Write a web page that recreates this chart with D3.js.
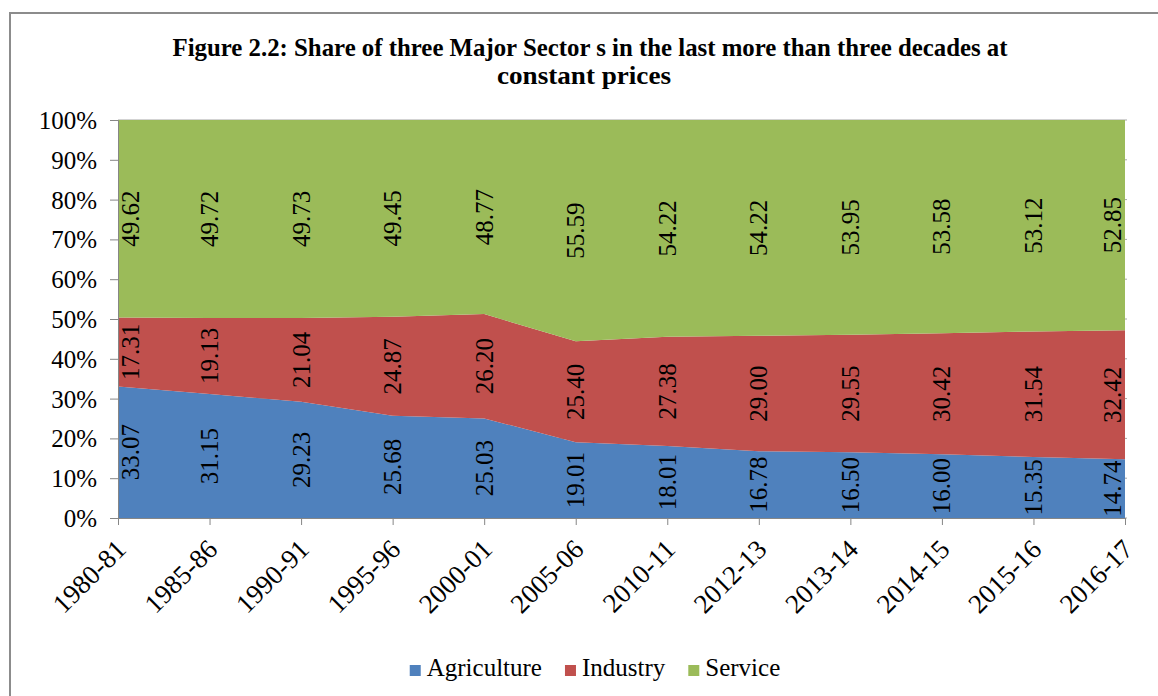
<!DOCTYPE html>
<html>
<head>
<meta charset="utf-8">
<script src="https://cdn.jsdelivr.net/npm/d3@7"></script>
<style>
  html, body { margin: 0; padding: 0; background: #fff; }
  svg { display: block; }
  svg text { font-family: "Liberation Serif", "Times New Roman", serif !important; fill: #000; }
</style>
</head>
<body>
<svg id="chart" width="1158" height="696"></svg>
<script>
const categories = ["1980-81","1985-86","1990-91","1995-96","2000-01","2005-06","2010-11","2012-13","2013-14","2014-15","2015-16","2016-17"];
const agriculture = [33.07,31.15,29.23,25.68,25.03,19.01,18.01,16.78,16.50,16.00,15.35,14.74];
const industry    = [17.31,19.13,21.04,24.87,26.20,25.40,27.38,29.00,29.55,30.42,31.54,32.42];
const service     = [49.62,49.72,49.73,49.45,48.77,55.59,54.22,54.22,53.95,53.58,53.12,52.85];
const seriesNames = ["Agriculture","Industry","Service"];
const seriesColors = ["#4F81BD","#C0504D","#9BBB59"];
const yTickValues = [0,0.1,0.2,0.3,0.4,0.5,0.6,0.7,0.8,0.9,1.0];
const titleLines = ["Figure 2.2: Share of three Major Sector s in the last more than three decades at","constant prices"];

const svg = d3.select("#chart");
const plot = {left: 118, right: 1125, top: 120, bottom: 518};
const SERIF = '"Liberation Serif", "Times New Roman", serif';

// outer frame
svg.append("rect").attr("x", 10).attr("y", 13).attr("width", 1160).attr("height", 700)
  .attr("fill", "#fff").attr("stroke", "#8c8c8c").attr("stroke-width", 2);

// title
svg.append("text").attr("x", 590).attr("y", 56).attr("text-anchor", "middle")
  .attr("font-weight", "bold").attr("font-size", 25)
  .attr("textLength", 835).attr("lengthAdjust", "spacingAndGlyphs").text(titleLines[0]);
svg.append("text").attr("x", 584).attr("y", 84).attr("text-anchor", "middle")
  .attr("font-weight", "bold").attr("font-size", 25)
  .attr("textLength", 174).attr("lengthAdjust", "spacingAndGlyphs").text(titleLines[1]);

const rows = categories.map((c, i) => ({cat: c, Agriculture: agriculture[i], Industry: industry[i], Service: service[i]}));
const stack = d3.stack().keys(seriesNames).offset(d3.stackOffsetExpand);
const layers = stack(rows);

const x = d3.scalePoint().domain(categories).range([plot.left, plot.right]);
const y = d3.scaleLinear().domain([0, 1]).range([plot.bottom, plot.top]);

// gridlines (behind)
svg.append("g").selectAll("line").data(yTickValues).join("line")
  .attr("x1", plot.left).attr("x2", plot.right + 2)
  .attr("y1", d => y(d)).attr("y2", d => y(d))
  .attr("stroke", "#a6a6a6").attr("stroke-width", 1);

const area = d3.area().x(d => x(d.data.cat)).y0(d => y(d[0])).y1(d => y(d[1]));
svg.append("g").selectAll("path").data(layers).join("path")
  .attr("d", area).attr("fill", (d, i) => seriesColors[i]);

// y axis
const yAxis = d3.axisLeft(y).tickValues(yTickValues).tickFormat(d3.format(".0%")).tickSize(8).tickPadding(13);
const gy = svg.append("g").attr("transform", `translate(${plot.left},0)`).call(yAxis)
  .attr("font-family", SERIF);
gy.select(".domain").attr("stroke", "#868686");
gy.selectAll(".tick line").attr("stroke", "#868686");
gy.selectAll(".tick text").attr("font-size", 25).style("font-family", SERIF).attr("fill", "#000").attr("dy", "0.34em");

// x axis
const xAxis = d3.axisBottom(x).tickSize(7).tickSizeOuter(0);
const gx = svg.append("g").attr("transform", `translate(0,${plot.bottom})`).call(xAxis)
  .attr("font-family", SERIF);
gx.select(".domain").attr("stroke", "#868686");
gx.selectAll(".tick line").attr("stroke", "#868686");
gx.selectAll(".tick text").attr("font-size", 27).style("font-family", SERIF).attr("fill", "#000")
  .attr("text-anchor", "end").attr("dy", 0).attr("y", 0)
  .attr("transform", "translate(9,33) rotate(-45)");

// data labels
const rawSeries = [agriculture, industry, service];
const labelG = svg.append("g");
layers.forEach((layer, si) => {
  layer.forEach((d, i) => {
    let cx = x(d.data.cat);
    cx = Math.max(plot.left + 12, Math.min(plot.right - 13, cx));
    const cy = y((d[0] + d[1]) / 2);
    labelG.append("text")
      .attr("transform", `translate(${cx},${cy}) rotate(-90)`)
      .attr("text-anchor", "middle").attr("dy", "0.34em")
      .attr("font-size", 25).style("font-family", SERIF)
      .text(rawSeries[si][i].toFixed(2));
  });
});

// legend
const leg = svg.append("g");
const items = leg.selectAll("g").data(seriesNames).join("g");
items.append("rect").attr("width", 11).attr("height", 11).attr("y", -11).attr("fill", (d, i) => seriesColors[i]);
items.append("text").attr("x", 17).attr("font-size", 25).style("font-family", SERIF).text(d => d);
let lx = 0;
items.each(function() {
  const g = d3.select(this);
  g.attr("transform", `translate(${lx},0)`);
  lx += 17 + g.select("text").node().getComputedTextLength() + 23;
});
const totalW = lx - 23;
leg.attr("transform", `translate(${595 - totalW / 2},676)`);
</script>
</body>
</html>
